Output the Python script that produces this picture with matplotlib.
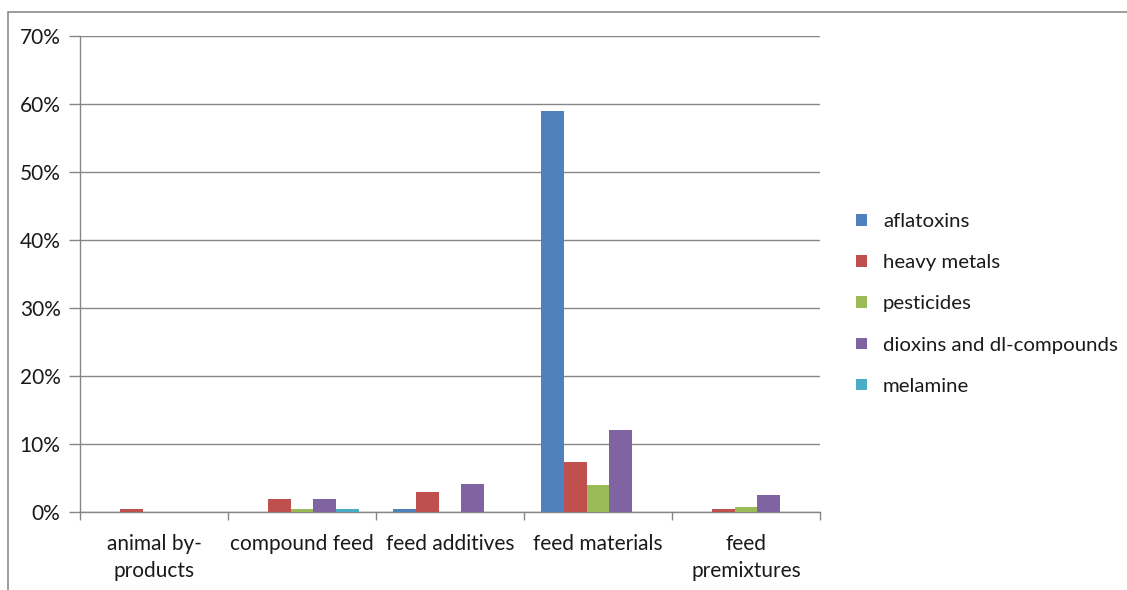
import matplotlib
matplotlib.use("Agg")
import matplotlib.pyplot as plt
import numpy as np
from matplotlib.patches import Rectangle
from matplotlib.ticker import FuncFormatter, MultipleLocator

categories = ["animal by-\nproducts", "compound feed", "feed additives", "feed materials", "feed\npremixtures"]
series_names = ["aflatoxins", "heavy metals", "pesticides", "dioxins and dl-compounds", "melamine"]
aflatoxins = [0.0, 0.0, 0.5, 58.9, 0.0]
heavy_metals = [0.5, 1.9, 3.0, 7.3, 0.5]
pesticides = [0.0, 0.4, 0.0, 4.0, 0.7]
dioxins = [0.0, 1.9, 4.1, 12.0, 2.5]
melamine = [0.0, 0.5, 0.0, 0.0, 0.0]
colors = ["#4F81BD", "#C0504D", "#9BBB59", "#8064A2", "#4BACC6"]

plt.rcParams['font.family'] = ['Lato', 'DejaVu Sans']
FS = 15

W, H = 1127, 590
fig = plt.figure(figsize=(W/100, H/100), dpi=100)
ax = fig.add_axes([80/W, 1-512/H, 740/W, 476/H])

# outer chart border
fig.patches.append(Rectangle((8/W, -0.1), 1.2, (1-12/H)+0.1, transform=fig.transFigure,
                             fill=False, edgecolor="#8c8c8c", linewidth=1.2))

data = [aflatoxins, heavy_metals, pesticides, dioxins, melamine]
w = 1/6.5
x = np.arange(len(categories))
for i, (vals, name, c) in enumerate(zip(data, series_names, colors)):
    ax.bar(x + (i - 2) * w, vals, width=w, color=c, label=name, zorder=3)

ax.set_xlim(-0.5, len(categories) - 0.5)
ax.set_ylim(0, 70)
ax.yaxis.set_major_locator(MultipleLocator(10))
ax.yaxis.set_major_formatter(FuncFormatter(lambda v, p: f"{int(v)}%"))
ax.grid(axis='y', color="#868686", linewidth=1.0, zorder=0)
ax.set_axisbelow(True)

for s in ["top", "right"]:
    ax.spines[s].set_visible(False)
for s in ["left", "bottom"]:
    ax.spines[s].set_color("#868686")
    ax.spines[s].set_linewidth(1.0)

ax.set_xticks(x)
ax.set_xticklabels(categories, fontsize=FS, color="#1a1a1a", linespacing=1.45)
ax.tick_params(axis='x', length=0, pad=16)
ax.set_xticks(np.arange(len(categories) + 1) - 0.5, minor=True)
ax.tick_params(axis='x', which='minor', length=6, color="#868686", width=1.0)
ax.tick_params(axis='y', length=8, color="#868686", width=1.0, labelsize=FS, labelcolor="#1a1a1a", pad=6)

handles, labels = ax.get_legend_handles_labels()
leg = fig.legend(handles, labels, loc='center left', bbox_to_anchor=(838/W, 1-304/H),
                 frameon=False, fontsize=14.7, handlelength=0.5, handleheight=0.5,
                 handletextpad=0.8, labelspacing=1.18, labelcolor="#1a1a1a")

fig.savefig("out.png", dpi=100, facecolor="white")
